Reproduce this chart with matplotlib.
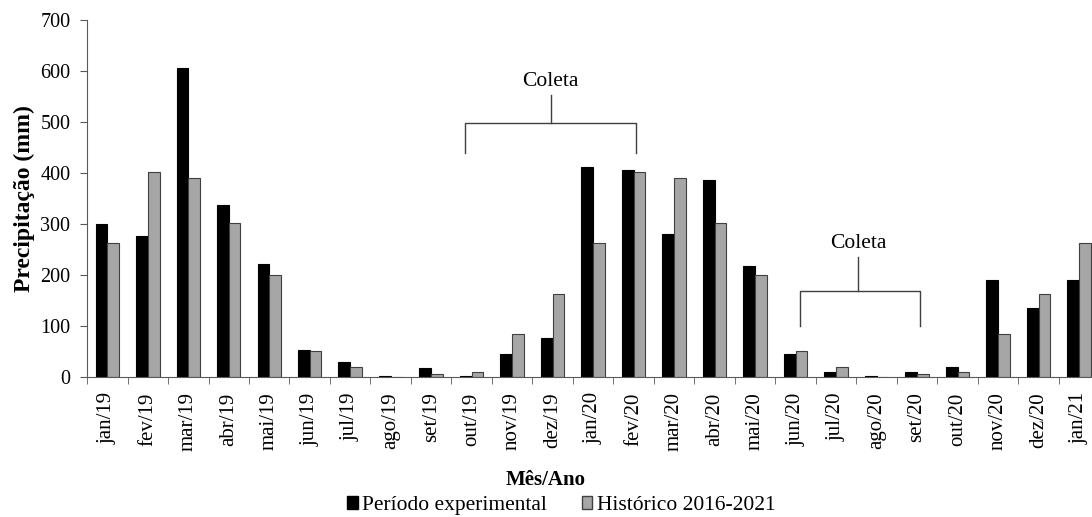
import matplotlib
matplotlib.use('Agg')
import matplotlib.pyplot as plt
from matplotlib.patches import Patch
import numpy as np

plt.rcParams['font.family'] = ['Liberation Serif', 'DejaVu Serif']

# Monthly precipitation (mm)
meses = ['jan/19', 'fev/19', 'mar/19', 'abr/19', 'mai/19', 'jun/19', 'jul/19',
         'ago/19', 'set/19', 'out/19', 'nov/19', 'dez/19', 'jan/20', 'fev/20',
         'mar/20', 'abr/20', 'mai/20', 'jun/20', 'jul/20', 'ago/20', 'set/20',
         'out/20', 'nov/20', 'dez/20', 'jan/21']
periodo_exp = [300, 277, 605, 337, 222, 53, 30, 2, 17, 2, 45, 77, 411, 405,
               281, 386, 217, 45, 10, 2, 10, 19, 190, 135, 190]
historico = [262, 402, 390, 302, 200, 51, 19, 0, 6, 10, 85, 162, 262, 402,
             390, 302, 200, 51, 19, 0, 6, 10, 85, 162, 262]

# collection periods: (left leg, right leg, stem x, bar y, leg bottom, stem top)
coletas = [(8.83, 13.06, 10.95, 498, 439, 553),
           (17.1, 20.07, 18.55, 168, 100, 236)]

fig = plt.figure(figsize=(10.92, 5.17), dpi=100)
ax = fig.add_axes([0.0797, 0.2708, 0.927, 0.6905])

x = np.arange(len(meses))
w = 0.29
ax.bar(x - w / 2, periodo_exp, w, color='black', edgecolor='black', linewidth=0.8)
ax.bar(x + w / 2, historico, w, color='#a6a6a6', edgecolor='#404040', linewidth=0.8)

ax.set_xlim(-0.5, len(meses) - 0.5)
ax.set_ylim(0, 700)
ax.set_yticks(range(0, 701, 100))
ax.set_xticks(x)
ax.set_xticklabels(meses, rotation=90, fontsize=15)
ax.set_xticks(np.arange(-0.5, len(meses), 1), minor=True)
ax.tick_params(axis='x', which='major', length=0, pad=11)
ax.tick_params(axis='x', which='minor', length=5, color='#595959', direction='out')
ax.tick_params(axis='y', labelsize=14.5, length=5, color='#595959', direction='out', pad=7)

for s in ['top', 'right']:
    ax.spines[s].set_visible(False)
for s in ['left', 'bottom']:
    ax.spines[s].set_color('#595959')

ax.set_ylabel('Precipitação (mm)', fontsize=17, fontweight='bold', labelpad=4)

for x0, x1, xm, yb, yl, yt in coletas:
    ax.plot([x0, x0, x1, x1], [yl, yb, yb, yl], color='#404040', lw=1)
    ax.plot([xm, xm], [yb, yt], color='#404040', lw=1)
    ax.text(xm, yt + 8, 'Coleta', ha='center', va='bottom', fontsize=15.5)

fig.text(0.5, 0.072, 'Mês/Ano', ha='center', va='center', fontsize=15, fontweight='bold')

handles = [Patch(facecolor='black', edgecolor='black'),
           Patch(facecolor='#a6a6a6', edgecolor='#404040')]
fig.legend(handles, ['Período experimental', 'Histórico 2016-2021'],
           loc='center', bbox_to_anchor=(0.514, 0.022), ncol=2, frameon=False,
           fontsize=15.5, handlelength=0.5, handleheight=0.5, handletextpad=0.2,
           columnspacing=1.6, borderpad=0)

fig.savefig('out.png', dpi=100)
